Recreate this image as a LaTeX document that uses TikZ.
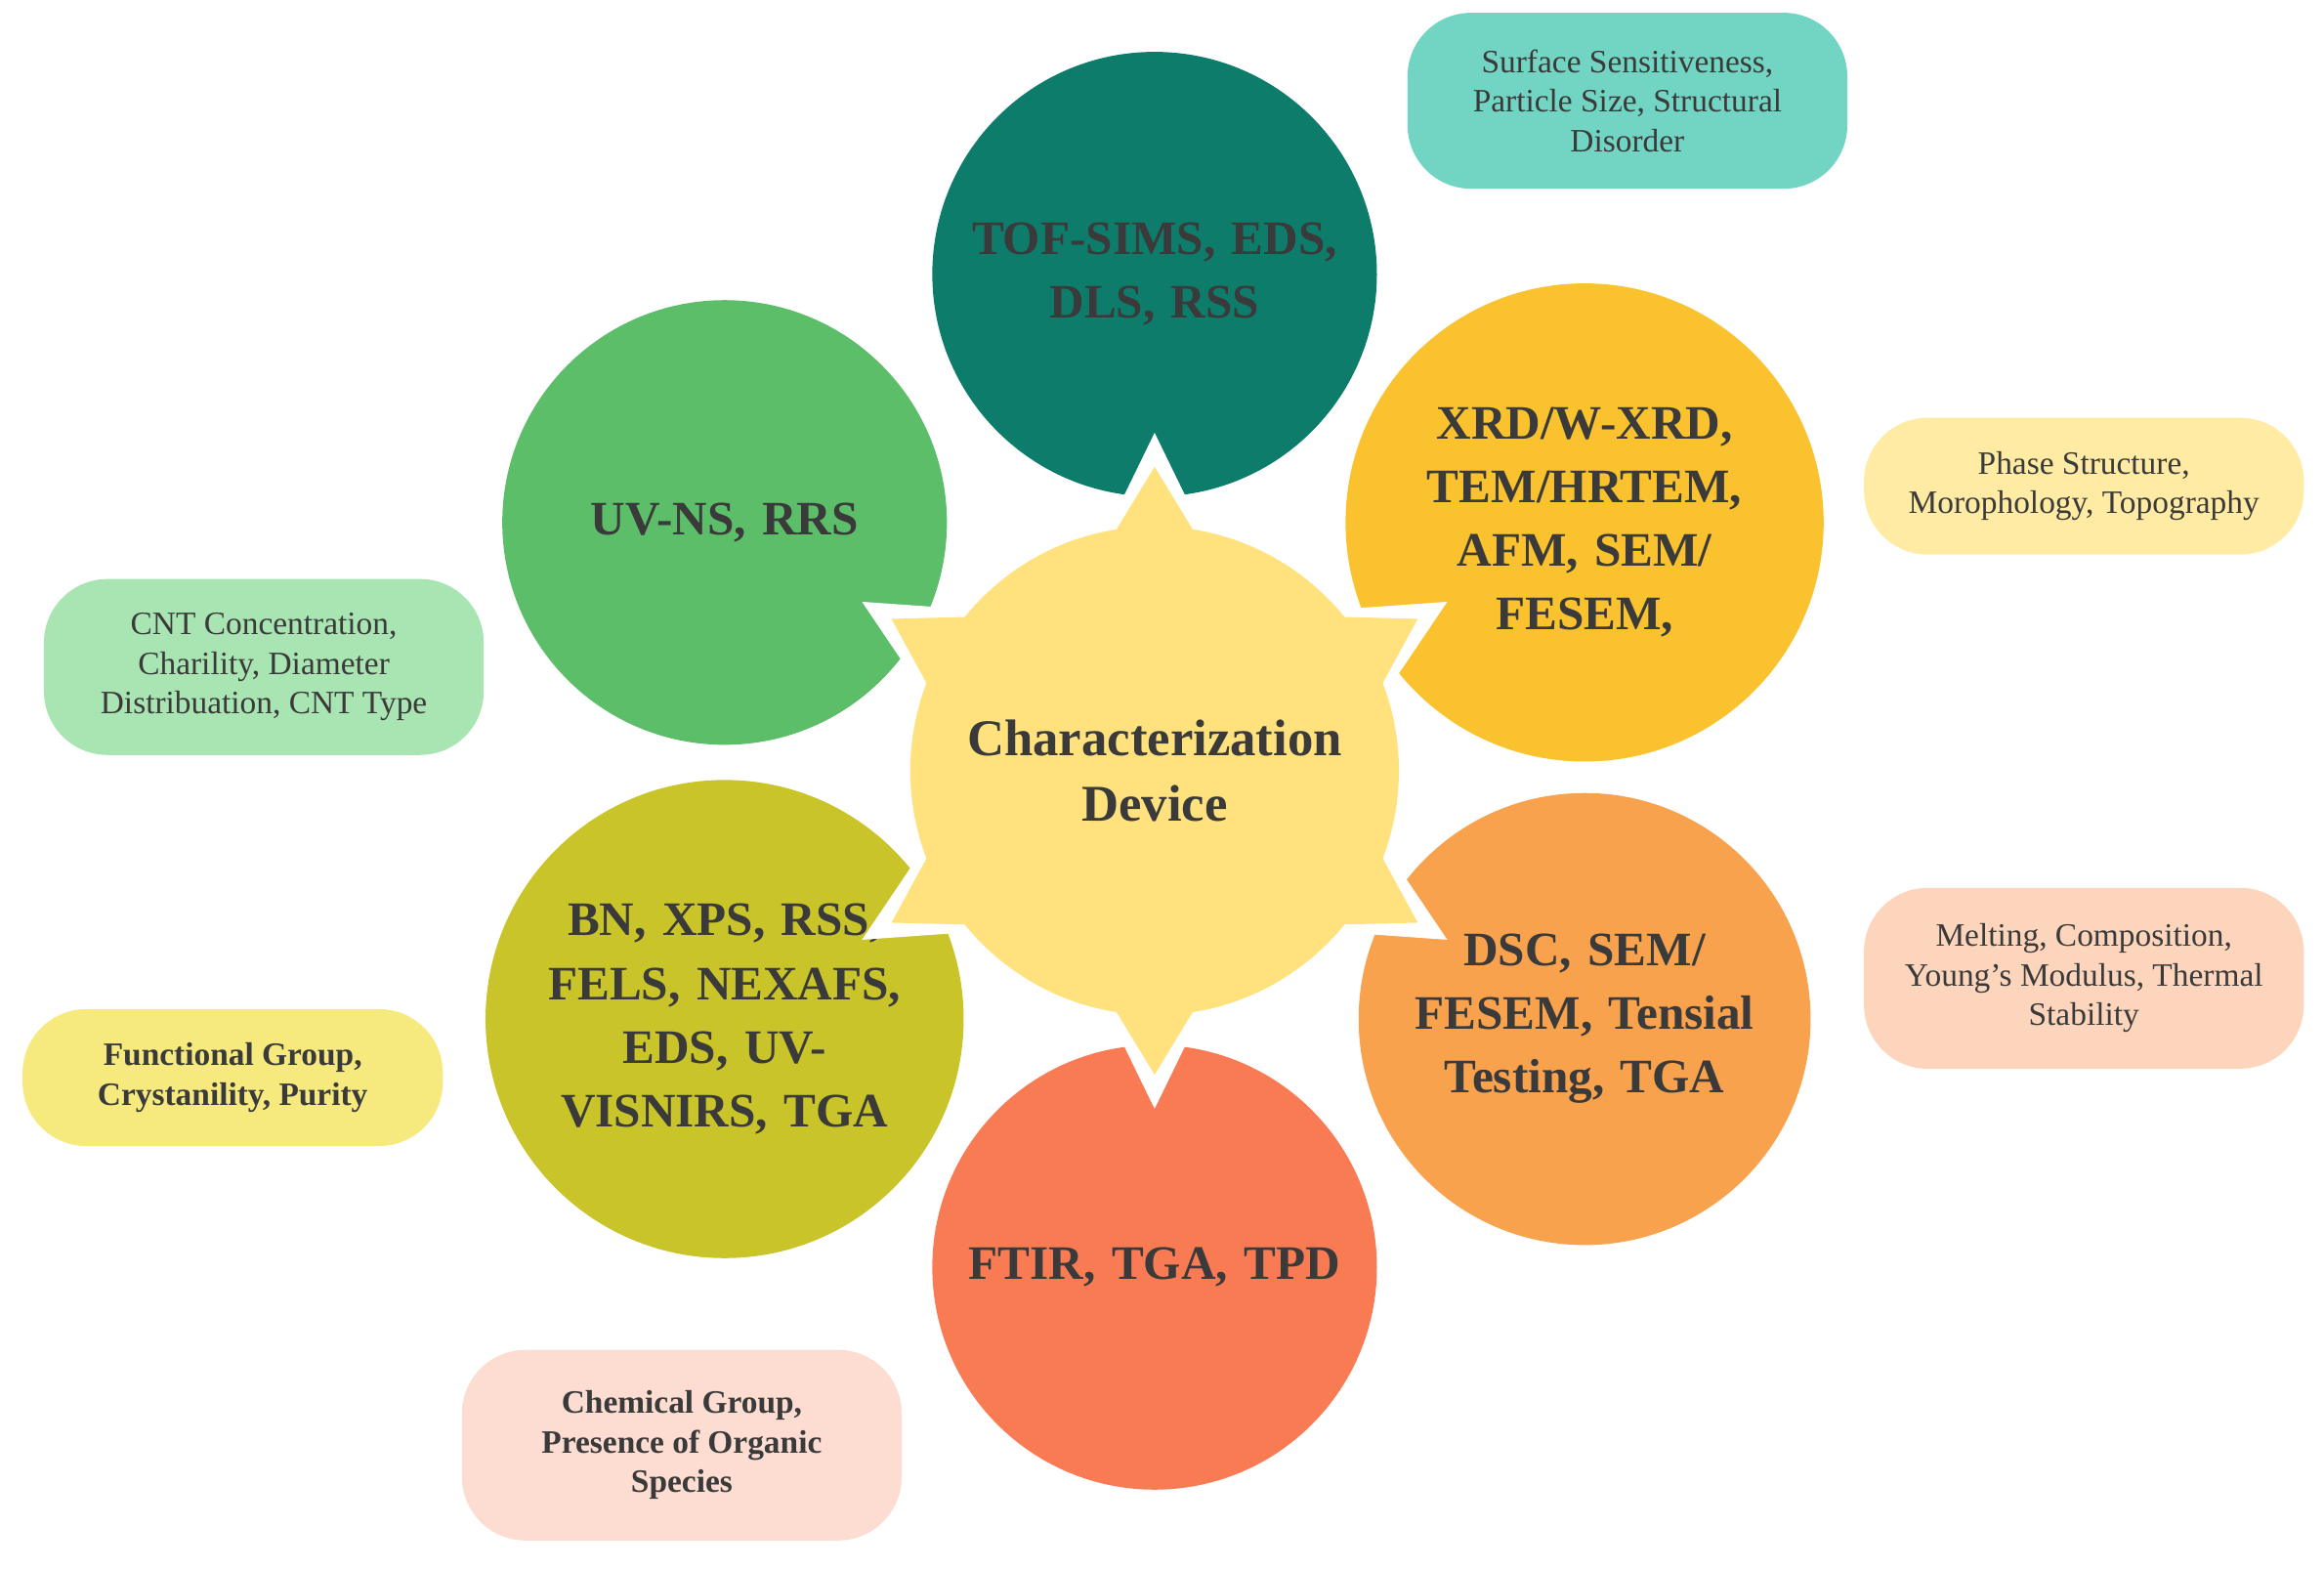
\documentclass[tikz,border=0pt]{standalone}
\usepackage{fontspec}
\setmainfont{Liberation Serif}
\usetikzlibrary{positioning,calc}
\definecolor{hubc}{HTML}{FFE27E}
\definecolor{txt}{HTML}{3A3A3A}
\tikzset{
  hub/.style={circle, fill=hubc, minimum size=5cm, inner sep=0pt, align=center,
    font=\fontsize{15}{19}\selectfont\bfseries, text=txt},
  petal/.style={circle, fill=#1, minimum size=4.55cm, inner sep=0pt, align=center,
    text width=4.3cm, font=\fontsize{14}{18.5}\selectfont\bfseries, text=txt},
  tag/.style={rounded corners=0.65cm, fill=#1, minimum width=4.5cm, align=center,
    font=\fontsize{9.5}{11.5}\selectfont, text=txt, inner sep=4pt}
}
\begin{document}
\begin{tikzpicture}[x=0.01517cm, y=0.01517cm]
\useasboundingbox (0,0) rectangle (1568,1058);
% outer circles
\foreach \ang/\col/\nm/\lbl in {
  90/0E7C6B/top/{TOF-SIMS, EDS,\\DLS, RSS},
  30/F9C22E/ur/{XRD/W-XRD,\\TEM/HRTEM,\\AFM, SEM/\\FESEM,},
  -30/F9A24E/lr/{DSC, SEM/\\FESEM, Tensial\\Testing, TGA},
  -90/F97B54/bot/{FTIR, TGA, TPD},
  210/C9C42A/ll/{BN, XPS, RSS,\\FELS, NEXAFS,\\EDS, UV-\\VISNIRS, TGA},
  150/5DBE6A/ul/{UV-NS, RRS}}
{
  \definecolor{pc}{HTML}{\col}
  \node[petal=pc] (\nm) at ($(779,538)+(\ang:335)$) {\lbl};
  \fill[white] ($(779,538)+(\ang-10:170)$) -- ($(779,538)+(\ang:228)$) -- ($(779,538)+(\ang+10:170)$) -- cycle;
}
% star hub
\foreach \ang in {90,30,-30,-90,210,150}
  \fill[hubc] ($(779,538)+(\ang-14:150)$) -- ($(779,538)+(\ang:205)$) -- ($(779,538)+(\ang+14:150)$) -- cycle;
\node[hub] (hub) at (779,538) {Characterization\\Device};
% property tags
\definecolor{t1}{HTML}{72D4C2}\definecolor{t2}{HTML}{FFEBA3}\definecolor{t3}{HTML}{FDD5BC}
\definecolor{t4}{HTML}{FDDDD2}\definecolor{t5}{HTML}{F6EA7E}\definecolor{t6}{HTML}{A8E5B2}
\node[tag=t1, minimum height=1.8cm] (surf) at (1098,990) {Surface Sensitiveness,\\Particle Size, Structural\\Disorder};
\node[tag=t2, minimum height=1.4cm] (phase) at (1406,730) {Phase Structure,\\Morophology, Topography};
\node[tag=t3, minimum height=1.85cm] (melt) at (1406,398) {Melting, Composition,\\Young's Modulus, Thermal\\Stability};
\node[tag=t4, minimum height=1.95cm, font=\fontsize{9.5}{11.5}\selectfont\bfseries] (chem) at (460,83) {Chemical Group,\\Presence of Organic\\Species};
\node[tag=t5, minimum height=1.4cm, minimum width=4.3cm, font=\fontsize{9.5}{11.5}\selectfont\bfseries] (func) at (157,331) {Functional Group,\\Crystanility, Purity};
\node[tag=t6, minimum height=1.8cm] (cnt) at (178,608) {CNT Concentration,\\Charility, Diameter\\Distribuation, CNT Type};
\end{tikzpicture}
\end{document}
